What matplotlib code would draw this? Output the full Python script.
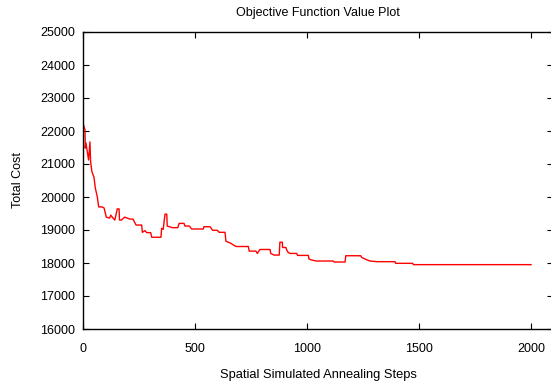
import matplotlib
matplotlib.use("Agg")
import matplotlib.pyplot as plt

plt.rcParams['font.family'] = ['Liberation Sans', 'DejaVu Sans']

steps = [0, 9, 10, 13, 25, 31, 34, 40, 49, 55, 64, 70, 85, 94, 104, 119, 124, 134, 142,
         153, 161, 163, 171, 186, 210, 223, 237, 262, 265, 277, 284, 302, 307, 348, 351,
         358, 366, 374, 376, 400, 423, 429, 451, 455, 475, 485, 537, 540, 567, 579, 600,
         608, 634, 638, 656, 683, 738, 742, 772, 778, 790, 835, 838, 853, 876, 879, 890,
         891, 906, 909, 916, 924, 954, 958, 1006, 1009, 1021, 1043, 1117, 1121, 1170,
         1173, 1240, 1244, 1259, 1281, 1314, 1393, 1396, 1472, 1475, 2000]
cost = [22240, 22030, 21480, 21640, 21120, 21670, 21060, 20760, 20600, 20270, 20000,
        19700, 19700, 19670, 19390, 19360, 19450, 19360, 19300, 19640, 19640, 19300,
        19300, 19390, 19330, 19330, 19150, 19150, 18930, 18980, 18920, 18920, 18780,
        18780, 19050, 19020, 19480, 19480, 19120, 19070, 19070, 19200, 19200, 19120,
        19120, 19030, 19030, 19100, 19100, 18990, 18990, 18930, 18930, 18660, 18610,
        18500, 18500, 18360, 18360, 18290, 18410, 18410, 18290, 18240, 18240, 18630,
        18630, 18470, 18470, 18400, 18320, 18290, 18290, 18230, 18230, 18120, 18090,
        18060, 18060, 18030, 18030, 18220, 18220, 18170, 18120, 18060, 18040, 18040,
        17990, 17990, 17950, 17950]

xticks = [0, 500, 1000, 1500, 2000]
yticks = [16000, 17000, 18000, 19000, 20000, 21000, 22000, 23000, 24000, 25000]

W, H = 551, 384
fig = plt.figure(figsize=(W / 100, H / 100), dpi=100)
left, right, top, bottom = 83, 553.4, 32, 329
ax = fig.add_axes([left / W, (H - bottom) / H, (right - left) / W, (bottom - top) / H])

ax.plot(steps, cost, color='red', linewidth=1.0)
ax.set_xlim(0, 2100)
ax.set_ylim(16000, 25000)
ax.set_xticks(xticks)
ax.set_yticks(yticks)
ax.tick_params(direction='in', length=4, width=0.8, top=True, right=True,
               labelsize=9, colors='black')
ax.tick_params(axis='x', pad=10)
ax.tick_params(axis='y', pad=5.5)
for s in ax.spines.values():
    s.set_linewidth(1.0)
ax.set_title('Objective Function Value Plot', fontsize=9, pad=11.5)
ax.set_xlabel('Spatial Simulated Annealing Steps', fontsize=9.3, labelpad=10.5)
ax.set_ylabel('Total Cost', fontsize=9, labelpad=12)

fig.savefig('out.png', dpi=100)
